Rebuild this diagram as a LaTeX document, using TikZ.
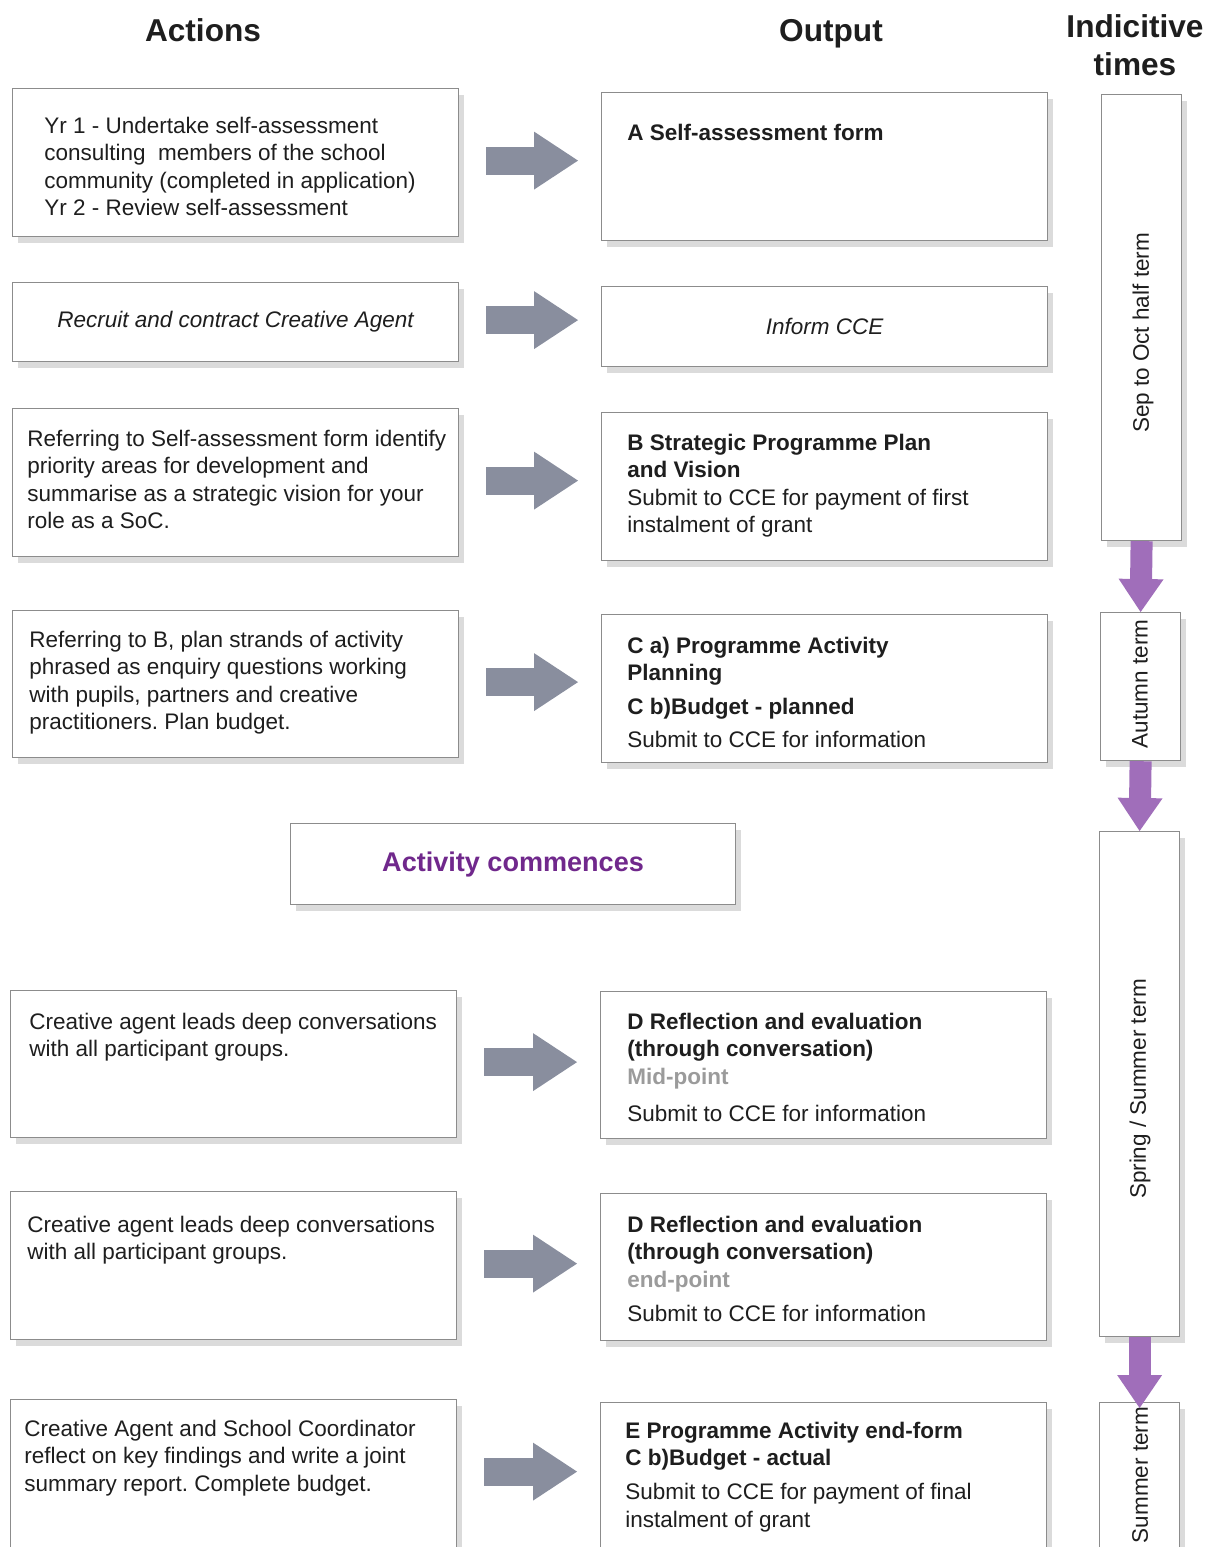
\documentclass[tikz,border=0pt]{standalone}
\usepackage{fontspec}
\setmainfont{Liberation Sans}
\usetikzlibrary{arrows.meta,shadows,calc}
\frenchspacing

\definecolor{ink}{RGB}{30,30,30}
\definecolor{boxline}{RGB}{140,140,140}
\definecolor{arrowgrey}{RGB}{137,142,158}
\definecolor{arrowpurple}{RGB}{160,110,186}
\definecolor{titlepurple}{RGB}{112,40,140}
\definecolor{pointgrey}{RGB}{155,155,155}

\begin{document}
\begin{tikzpicture}[x=0.02cm,y=-0.02cm,
    box/.style={draw=boxline,line width=0.7pt,fill=white,inner sep=0pt,anchor=north west,
        drop shadow={shadow xshift=3pt,shadow yshift=-3.5pt,fill=black,opacity=0.14}},
    wide/.style={box,minimum width=8.92cm,minimum height=2.96cm},
    slim/.style={box,minimum width=1.6cm},
    txt/.style={font=\fontsize{12.8}{15.6}\selectfont,text=ink,align=left,inner sep=0pt,
        anchor=north west,yshift=9.2pt,execute at begin node=\strut},
    vtxt/.style={font=\fontsize{12.8}{15.6}\selectfont,text=ink,rotate=90,inner sep=0pt},
    header/.style={font=\fontsize{18}{21.5}\selectfont\bfseries,text=ink,align=center,inner sep=0pt,
        anchor=north,yshift=13.3pt,execute at begin node=\strut},
    greyarrow/.style={draw=arrowgrey,line width=0.56cm,-{Triangle[length=0.88cm,width=1.16cm,line width=0pt]}},
    purplearrow/.style={draw=arrowpurple,line width=0.44cm,-{Triangle[length=0.66cm,width=0.9cm,line width=0pt]}}]

    \useasboundingbox (0,0) rectangle (1213,1547);
    \clip (0,0) rectangle (1213,1547);

    \node[header] (hact) at (203,38) {Actions};
    \node[header] (hout) at (831,38) {Output};
    \node[header] (htime) at (1135,38) {Indicitive\\times};

    \node[wide] (L1) at (12,88) {};
    \node[wide,minimum height=1.58cm,font=\fontsize{12.8}{15.6}\selectfont\itshape,text=ink] (L2) at (12,282) {Recruit and contract Creative Agent};
    \node[wide] (L3) at (12,408) {};
    \node[wide,minimum height=2.94cm] (L4) at (12,610) {};
    \node[wide,minimum height=2.94cm] (L5) at (10,990) {};
    \node[wide] (L6) at (10,1191) {};
    \node[wide] (L7) at (10,1399) {};

    \node[wide] (O1) at (601,92) {};
    \node[wide,minimum height=1.6cm,font=\fontsize{12.8}{15.6}\selectfont\itshape,text=ink] (O2) at (601,286) {Inform CCE};
    \node[wide] (O3) at (601,412) {};
    \node[wide] (O4) at (601,614) {};
    \node[wide,minimum height=2.94cm] (O5) at (600,991) {};
    \node[wide,minimum height=2.94cm] (O6) at (600,1193) {};
    \node[wide,minimum height=3.16cm] (O7) at (600,1402) {};

    \node[wide,minimum width=8.9cm,minimum height=1.62cm,font=\fontsize{15.4}{18}\selectfont\bfseries,text=titlepurple] (act) at (290,823) {Activity commences};

    \node[slim,minimum height=8.92cm] (T1) at (1101,94) {};
    \node[slim,minimum height=2.96cm] (T2) at (1100,612) {};
    \node[slim,minimum height=10.1cm] (T3) at (1099,831) {};
    \node[slim,minimum height=3.16cm] (T4) at (1099,1402) {};

    \node[txt] at (44,133) {Yr 1 - Undertake self-assessment\\consulting~ members of the school\\community (completed in application)\\Yr 2 - Review self-assessment};
    \node[txt] at (27,446) {Referring to Self-assessment form identify\\priority areas for development and\\summarise as a strategic vision for your\\role as a SoC.};
    \node[txt] at (29,647) {Referring to B, plan strands of activity\\phrased as enquiry questions working\\with pupils, partners and creative\\practitioners. Plan budget.};
    \node[txt] at (29,1029) {Creative agent leads deep conversations\\with all participant groups.};
    \node[txt] at (27,1232) {Creative agent leads deep conversations\\with all participant groups.};
    \node[txt] at (24,1436) {Creative Agent and School Coordinator\\reflect on key findings and write a joint\\summary report. Complete budget.};

    \node[txt] at (627,137) {\textbf{A Self-assessment form}};
    \node[txt] at (627,450) {\textbf{B Strategic Programme Plan}\\\textbf{and Vision}\\Submit to CCE for payment of first\\instalment of grant};
    \node[txt] at (627,653) {\textbf{C a) Programme Activity}\\\textbf{Planning}\\[3.7pt]\textbf{C b)Budget - planned}\\[3pt]Submit to CCE for information};
    \node[txt] at (627,1029) {\textbf{D Reflection and evaluation}\\\textbf{(through conversation)}\\\textcolor{pointgrey}{\textbf{Mid-point}}\\[5.4pt]Submit to CCE for information};
    \node[txt] at (627,1232) {\textbf{D Reflection and evaluation}\\\textbf{(through conversation)}\\\textcolor{pointgrey}{\textbf{end-point}}\\[3.7pt]Submit to CCE for information};
    \node[txt] at (625,1438) {\textbf{E Programme Activity end-form}\\\textbf{C b)Budget - actual}\\[3.7pt]Submit to CCE for payment of final\\instalment of grant};

    \node[vtxt] at (1143,333) {Sep to Oct half term};
    \node[vtxt] at (1140,684) {Autumn term};
    \node[vtxt] at (1140,1089) {Spring / Summer term};
    \node[vtxt] at (1140,1475) {Summer term};

    \foreach \i in {1,...,7}
        \draw[greyarrow] ($(L\i.east)+(27,-2)$) -- ($(L\i.east -| O\i.west)+(-23,-2)$);

    \draw[purplearrow] (T1.south) -- (T2.north);
    \draw[purplearrow] (T2.south) -- (T3.north);
    \draw[purplearrow] (T3.south) -- ($(T4.north)+(0,6)$);

\end{tikzpicture}
\end{document}
